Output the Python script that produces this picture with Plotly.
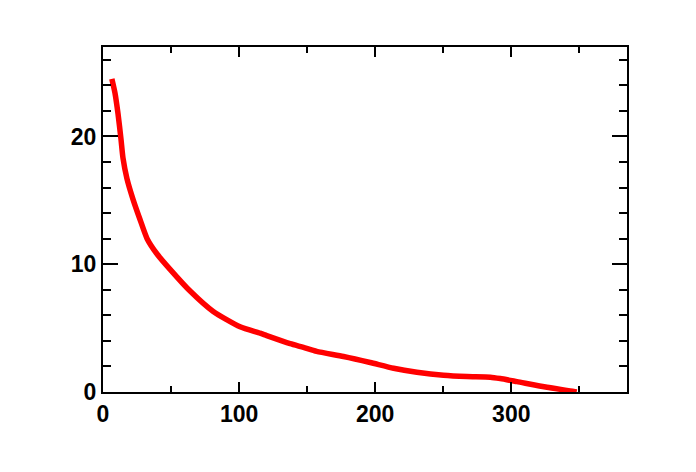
import plotly.graph_objects as go

x_vals = [6.5, 8.8, 11.0, 13.2, 14.7, 17.6, 22.0, 27.2, 32.4, 39.7, 49.3, 64.0, 81.0,
          100.7, 115.4, 120.3, 137.5, 147.3, 157.0, 176.7, 196.3, 213.5, 230.6,
          250.2, 267.4, 284.6, 291.9, 304.2, 326.2, 345.8, 348.0]
y_vals = [24.5, 23.4, 21.8, 19.8, 18.3, 16.7, 15.1, 13.5, 12.0, 10.8, 9.6, 7.9, 6.3,
          5.1, 4.6, 4.41, 3.78, 3.49, 3.18, 2.78, 2.31, 1.86, 1.55,
          1.31, 1.21, 1.16, 1.05, 0.81, 0.37, 0.05, 0.0]

fig = go.Figure()
fig.add_trace(go.Scatter(x=x_vals, y=y_vals, mode="lines",
                         line=dict(color="#ff0000", width=5.5, shape="spline", smoothing=0.6),
                         showlegend=False))

font = dict(family="Liberation Sans, Arial, sans-serif", size=23, color="black", weight="bold")

fig.update_layout(
    width=696, height=472,
    margin=dict(l=95, r=77, t=39, b=88),
    paper_bgcolor="white", plot_bgcolor="white",
    xaxis=dict(range=[0, 385], tickvals=[0, 100, 200, 300], ticks="inside", ticklen=10,
               tickwidth=1.5, tickcolor="black", showline=True, linecolor="black", linewidth=2,
               mirror="ticks", showgrid=False, zeroline=False, tickfont=font,
               minor=dict(tickvals=[50, 150, 250, 350], ticks="inside", ticklen=6,
                          tickwidth=1.5, tickcolor="black", showgrid=False)),
    yaxis=dict(range=[0, 27], tickvals=[0, 10, 20], ticks="inside", ticklen=15,
               tickwidth=1.5, tickcolor="black", showline=True, linecolor="black", linewidth=2,
               mirror="ticks", showgrid=False, zeroline=False, tickfont=font,
               minor=dict(tickvals=[2, 4, 6, 8, 12, 14, 16, 18, 22, 24, 26], ticks="inside",
                          ticklen=8, tickwidth=1.5, tickcolor="black", showgrid=False)),
)

fig.write_html("out.html")
